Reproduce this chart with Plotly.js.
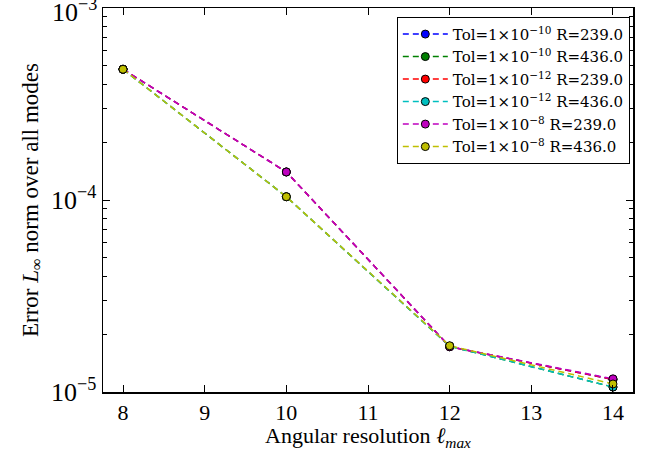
<!DOCTYPE html>
<html>
<head>
<meta charset="utf-8">
<script src="https://cdn.plot.ly/plotly-3.0.1.min.js"></script>
<style>html,body{margin:0;padding:0;background:#fff;}#plot{width:646px;height:451px;}</style>
</head>
<body>
<div id="plot"></div>
<script>
const lmax = [8, 10, 12, 14];
const tol10_R239 = [4.8e-4, 1.40e-4, 1.72e-5, 1.16e-5];
const tol10_R436 = [4.8e-4, 1.04e-4, 1.73e-5, 1.06e-5];
const tol12_R239 = [4.8e-4, 1.40e-4, 1.72e-5, 1.16e-5];
const tol12_R436 = [4.8e-4, 1.04e-4, 1.73e-5, 1.06e-5];
const tol8_R239  = [4.8e-4, 1.40e-4, 1.72e-5, 1.17e-5];
const tol8_R436  = [4.8e-4, 1.04e-4, 1.74e-5, 1.10e-5];
const seriesNames = [
  'Tol=1×10<sup>−10</sup> R=239.0',
  'Tol=1×10<sup>−10</sup> R=436.0',
  'Tol=1×10<sup>−12</sup> R=239.0',
  'Tol=1×10<sup>−12</sup> R=436.0',
  'Tol=1×10<sup>−8</sup> R=239.0',
  'Tol=1×10<sup>−8</sup> R=436.0'
];
const seriesValues = [tol10_R239, tol10_R436, tol12_R239, tol12_R436, tol8_R239, tol8_R436];
const colors = ['#0000ff', '#008000', '#ff0000', '#00bfbf', '#bf00bf', '#bfbf00'];
const yMajor = [1e-5, 1e-4, 1e-3];
const yMajorText = ['10<sup>−5</sup>', '10<sup>−4</sup>', '10<sup>−3</sup>'];
const xTicks = [8, 9, 10, 11, 12, 13, 14];

const yMinor = [];
for (const d of [1e-5, 1e-4]) for (let k = 2; k <= 9; k++) yMinor.push(k * d);

const font = 'Liberation Serif, DejaVu Serif, serif';
const lfont = 'DejaVu Serif, Liberation Serif, serif';
const traces = seriesValues.map((v, i) => ({
  x: lmax, y: v, name: seriesNames[i], type: 'scatter', mode: 'lines+markers',
  line: {color: colors[i], dash: '6px,4px', width: 1.5},
  marker: {color: colors[i], size: 8, line: {color: '#000', width: 1}}
}));

// Labels drawn by the axis (the top one is placed by hand because the axis drops it)
const axisText = yMajorText.slice(0, 2).concat(['']);

const layout = {
  width: 646, height: 451,
  margin: {l: 103, r: 13, t: 8, b: 59},
  paper_bgcolor: '#fff', plot_bgcolor: '#fff',
  font: {family: font, color: '#000'},
  showlegend: true,
  legend: {
    x: 0.994, y: 0.977, xanchor: 'right', yanchor: 'top',
    bordercolor: '#000', borderwidth: 1, bgcolor: '#fff',
    font: {family: lfont, size: 15, color: '#000'},
    tracegroupgap: 0, itemwidth: 45
  },
  xaxis: {
    range: [7.755, 14.245], tickvals: xTicks, ticktext: xTicks.map(String),
    ticks: 'inside', ticklen: 7, tickwidth: 1, tickcolor: '#000',
    showline: true, linecolor: '#000', linewidth: 1.5, mirror: 'ticks',
    showgrid: false, zeroline: false,
    tickfont: {family: font, size: 22},
    title: {text: 'Angular resolution <i>ℓ</i><sub><i>max</i></sub>', font: {family: font, size: 22}, standoff: 9}
  },
  yaxis: {
    type: 'log', range: [-5.0005, -2.9995], tickvals: yMajor, ticktext: axisText,
    ticks: 'inside', ticklen: 7, tickwidth: 1, tickcolor: '#000',
    showline: true, linecolor: '#000', linewidth: 1.5, mirror: 'ticks',
    showgrid: false, zeroline: false,
    tickfont: {family: font, size: 26},
    minor: {tickvals: yMinor, ticks: 'inside', ticklen: 4, tickcolor: '#000', showgrid: false},
    title: {text: 'Error <i>L</i><sub>∞</sub> norm over all modes', font: {family: font, size: 23}, standoff: 6}
  },
  annotations: [{
    xref: 'paper', yref: 'y', x: 0, y: Math.log10(yMajor[2]), xanchor: 'right', yanchor: 'middle',
    xshift: -4, yshift: -2, text: yMajorText[2], showarrow: false, font: {family: font, size: 26, color: '#000'}
  }]
};
Plotly.newPlot('plot', traces, layout, {displayModeBar: false, staticPlot: true});
</script>
</body>
</html>
